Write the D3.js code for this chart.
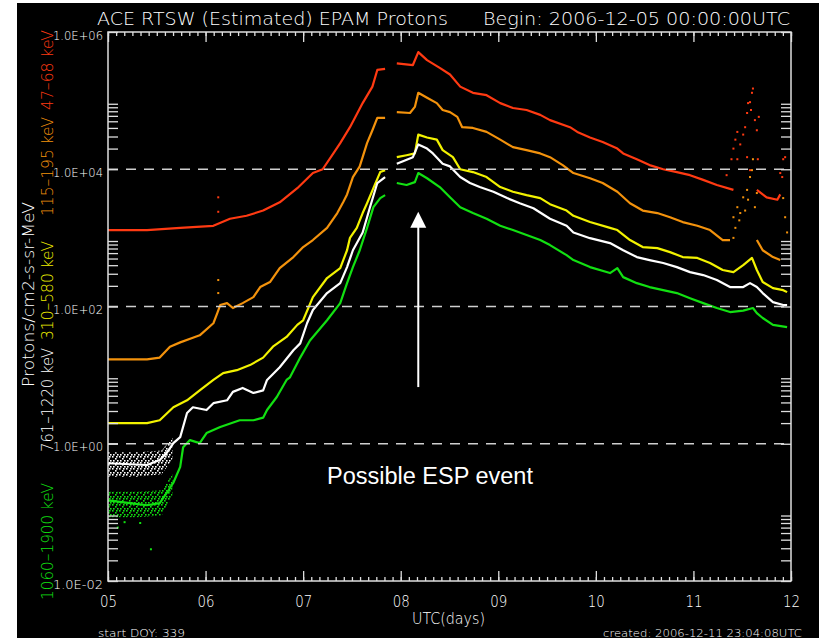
<!DOCTYPE html>
<html>
<head>
<meta charset="utf-8">
<script src="https://cdn.jsdelivr.net/npm/d3@7"></script>
<style>
  html, body { margin: 0; padding: 0; background: #fff; }
  svg { display: block; }
  .idl { font-family: "DejaVu Sans", "Liberation Sans", sans-serif; font-weight: 200; fill: #fff; }
</style>
</head>
<body>
<svg id="chart" width="819" height="641"></svg>
<script>
// ---- EPAM proton fluxes, [day of month (UTC), protons/cm2-s-sr-MeV]; null = data gap
const ch47_68 = [[5.00,1300],[5.40,1300],[5.74,1400],[6.08,1500],[6.25,1900],[6.42,2100],[6.59,2500],[6.76,3300],[6.94,5300],[7.10,8800],[7.20,10000],[7.31,17000],[7.38,24000],[7.48,41000],[7.61,92000],[7.71,160000],[7.76,280000],[7.84,290000],null,[7.96,350000],[8.125,330000],[8.18,510000],[8.27,390000],[8.40,300000],[8.505,240000],[8.61,160000],[8.74,130000],[8.88,120000],[9.02,92000],[9.15,78000],[9.29,73000],[9.43,62000],[9.53,52000],[9.735,41000],[9.81,35000],[9.94,29000],[10.07,25000],[10.22,20000],[10.28,17000],[10.42,14000],[10.55,11500],[10.69,10000],[10.83,9100],[10.965,8200],[11.10,7000],[11.24,5900],[11.41,5000],null,[11.65,5000],[11.75,3900],[11.86,3600],[11.89,4300]];

const ch115_195 = [[5.00,17],[5.40,17],[5.53,18],[5.635,26],[5.74,30],[5.87,35],[5.94,38],[6.08,57],[6.12,80],[6.15,105],[6.22,112],[6.28,95],[6.38,112],[6.49,137],[6.56,192],[6.66,227],[6.76,363],[6.90,525],[7.00,735],[7.10,930],[7.245,1400],[7.35,2300],[7.41,3300],[7.45,4300],[7.51,7700],[7.58,11000],[7.655,24000],[7.71,37000],[7.76,56000],[7.84,56000],null,[7.96,68000],[8.095,66000],[8.145,81000],[8.18,130000],[8.27,110000],[8.37,92000],[8.43,73000],[8.505,68000],[8.58,58000],[8.63,41000],[8.74,40000],[8.88,35000],[9.02,27000],[9.15,21000],[9.29,19000],[9.43,17000],[9.53,15000],[9.66,11500],[9.77,8800],[9.94,7400],[10.07,6300],[10.22,4700],[10.35,3200],[10.48,2500],[10.63,2300],[10.76,2000],[10.89,1700],[11.04,1500],[11.17,1300],[11.30,930],[11.375,930],null,[11.65,930],[11.71,660],[11.815,525],[11.89,475]];

const ch310_580 = [[5.00,2.0],[5.40,2.0],[5.53,2.2],[5.67,3.4],[5.81,4.3],[5.94,6.0],[6.08,8.5],[6.18,10.7],[6.32,11.8],[6.455,14],[6.59,18],[6.69,26],[6.83,36],[6.94,54],[7.00,63],[7.10,137],[7.245,260],[7.38,363],[7.45,660],[7.48,1000],[7.55,1400],[7.61,2300],[7.655,3200],[7.72,5300],[7.79,9100],[7.84,9700],null,[7.96,15000],[8.06,16000],[8.145,17000],[8.18,32000],[8.27,29000],[8.37,27000],[8.43,19000],[8.535,15000],[8.61,10000],[8.74,9100],[8.88,7700],[9.02,5500],[9.15,4700],[9.29,4200],[9.43,3800],[9.53,3100],[9.70,2500],[9.77,2100],[9.94,1700],[10.145,1400],[10.22,1300],[10.35,930],[10.48,735],[10.63,710],[10.76,620],[10.89,525],[11.04,510],[11.17,430],[11.30,340],[11.41,317],[11.51,400],[11.60,510],[11.65,340],[11.71,227],[11.815,185],[11.92,173],[11.96,162]];

const ch761_1220 = [[5.00,0.52],[5.40,0.49],[5.53,0.58],[5.60,0.73],[5.67,1.02],[5.74,1.25],[5.81,2.8],[5.87,3.4],[6.01,3.1],[6.08,3.9],[6.22,4.3],[6.28,5.7],[6.38,6.5],[6.49,5.5],[6.59,6.0],[6.63,8.5],[6.76,13],[6.90,23],[6.97,29],[7.04,57],[7.10,89],[7.245,157],[7.38,219],[7.45,375],[7.51,660],[7.61,1200],[7.685,2800],[7.76,6300],[7.84,7700],null,[7.96,12000],[8.125,15000],[8.18,23000],[8.27,20000],[8.33,17000],[8.43,12000],[8.505,11000],[8.61,7700],[8.71,6300],[8.81,5500],[8.95,4700],[9.09,3800],[9.22,3200],[9.36,2700],[9.53,1900],[9.70,1500],[9.77,1200],[9.94,990],[10.145,840],[10.28,660],[10.42,525],[10.55,475],[10.69,430],[10.83,375],[10.965,317],[11.10,287],[11.24,243],[11.375,192],[11.51,192],[11.58,219],[11.65,192],[11.71,157],[11.815,116],[11.92,105],[11.96,105]];

const ch1060_1900 = [[5.00,0.15],[5.225,0.136],[5.40,0.127],[5.53,0.136],[5.60,0.19],[5.67,0.27],[5.74,0.46],[5.77,0.89],[5.84,1.13],[5.94,1.02],[6.01,1.43],[6.15,1.75],[6.35,2.2],[6.49,2.2],[6.59,2.4],[6.63,3.1],[6.73,4.8],[6.83,8.5],[6.865,9.3],[6.97,18],[7.07,32],[7.245,63],[7.38,112],[7.45,219],[7.51,375],[7.58,660],[7.655,1400],[7.72,2800],[7.79,3800],[7.84,4200],null,[7.96,6300],[8.06,5900],[8.145,6500],[8.18,8800],[8.27,7400],[8.40,5500],[8.505,3900],[8.61,2800],[8.74,2300],[8.88,1900],[9.02,1500],[9.15,1300],[9.29,1100],[9.43,930],[9.53,785],[9.70,560],[9.77,475],[9.94,375],[10.145,307],[10.22,363],[10.28,268],[10.42,219],[10.55,192],[10.69,173],[10.83,157],[10.965,132],[11.10,112],[11.24,95],[11.375,83],[11.51,87],[11.61,95],[11.65,80],[11.71,68],[11.815,54],[11.96,50]];

// noisy quiet-time spread of the two highest channels: [day, low, high]
const spread761_1220 = [[5.00,0.33,0.75],[5.30,0.33,0.75],[5.55,0.36,0.80],[5.66,0.60,1.25]];
const spread1060_1900 = [[5.00,0.085,0.20],[5.30,0.085,0.20],[5.55,0.09,0.21],[5.66,0.17,0.36]];

// isolated samples off the main traces
const dots47_68 = [[6.13,3900],[6.13,2400],[11.34,8200],[11.39,14000],[11.41,20000],[11.43,27000],[11.45,35000],[11.48,23000],[11.51,32000],[11.53,41000],[11.55,66000],[11.56,92000],[11.58,95000],[11.59,73000],[11.60,130000],[11.61,150000],[11.63,52000],[11.65,37000],[11.67,58000],[11.66,14000],[11.45,14000],[11.55,15000],[11.58,9700],[11.89,8800],[11.92,14000],[11.94,15000],[11.91,7700]];
const dots115_195 = [[6.13,243],[6.13,157],[11.41,2000],[11.43,1400],[11.45,2800],[11.48,2300],[11.51,3900],[11.53,2500],[11.55,5000],[11.56,3600],[11.58,7700],[11.60,9700],[11.61,14000],[11.63,2800],[11.65,4500],[11.41,1000],[11.47,1800],[11.92,3800],[11.94,2000],[11.96,1200]];
const dots1060_1900 = [[5.17,0.072],[5.44,0.029],[5.10,0.06],[5.33,0.07]];

// axis ticks
const dayTicks = [5, 6, 7, 8, 9, 10, 11, 12];
const dayLabels = ["05", "06", "07", "08", "09", "10", "11", "12"];
const fluxTicks = [1e-2, 1e0, 1e2, 1e4, 1e6];
const refLines = [1e0, 1e2, 1e4];

// annotation
const espDay = 8.18, espFrom = 6.7, espTo = 2400;

// ---- layout
const svg = d3.select("#chart");
svg.append("rect").attr("x", 17).attr("y", 3).attr("width", 802).attr("height", 635).attr("fill", "#000");

const x = d3.scaleLinear().domain([5, 12]).range([108, 791]);
const y = d3.scaleLog().domain([1e-2, 1e6]).range([581, 32]);

const series = [
  { id: "c1", data: ch47_68, dots: dots47_68, color: "#ff3a12" },
  { id: "c2", data: ch115_195, dots: dots115_195, color: "#f3920c" },
  { id: "c3", data: ch310_580, dots: [], color: "#f2f200" },
  { id: "c4", data: ch761_1220, dots: [], spread: spread761_1220, color: "#ffffff" },
  { id: "c5", data: ch1060_1900, dots: dots1060_1900, spread: spread1060_1900, color: "#12e012" }
];

// speckle fill for the noisy quiet-time samples
const defs = svg.append("defs");
series.filter(s => s.spread).forEach(s => {
  const p = defs.append("pattern").attr("id", "speckle-" + s.id)
    .attr("patternUnits", "userSpaceOnUse").attr("width", 7).attr("height", 6);
  [[0, 0], [3, 2], [5, 4], [1, 4], [4, 0]].forEach(([px, py]) =>
    p.append("rect").attr("x", px).attr("y", py).attr("width", 1.6).attr("height", 1.6).attr("fill", s.color));
});

const line = d3.line().defined(d => d).x(d => x(d[0])).y(d => y(d[1]));
const band = d3.area().x(d => x(d[0])).y0(d => y(d[1])).y1(d => y(d[2]));

const plot = svg.append("g");
series.forEach(s => {
  if (s.spread) {
    plot.append("path").attr("d", band(s.spread)).attr("fill", `url(#speckle-${s.id})`);
  }
  plot.append("path").attr("d", line(s.data)).attr("fill", "none")
    .attr("stroke", s.color).attr("stroke-width", 2.2).attr("stroke-linejoin", "round");
  plot.selectAll(null).data(s.dots).enter().append("rect")
    .attr("x", d => x(d[0]) - 1).attr("y", d => y(d[1]) - 1)
    .attr("width", 2).attr("height", 2).attr("fill", s.color);
});

// dashed reference levels
svg.selectAll(".ref").data(refLines).enter().append("line")
  .attr("x1", x(5)).attr("x2", x(12)).attr("y1", d => y(d)).attr("y2", d => y(d))
  .attr("stroke", "#cfcfcf").attr("stroke-width", 1.5).attr("stroke-dasharray", "10,8");

// ---- axes
const axisColor = "#dedede";
function styleAxis(g) {
  g.select(".domain").remove();
  g.selectAll("line").attr("stroke", axisColor).attr("stroke-width", 1.3);
}
const minorHours = d3.range(0, 7 * 12 + 1).map(i => 5 + i / 12);
const minorFlux = [];
[-2, 0, 2, 4].forEach(e => { for (let m = 2; m <= 9; m++) minorFlux.push(m * Math.pow(10, e)); });

// bottom
svg.append("g").attr("transform", `translate(0,${y(1e-2)})`)
  .call(d3.axisBottom(x).tickValues(minorHours).tickSize(-4).tickFormat(""))
  .call(styleAxis);
const xb = svg.append("g").attr("transform", `translate(0,${y(1e-2)})`)
  .call(d3.axisBottom(x).tickValues(dayTicks).tickSize(-10).tickFormat((d, i) => dayLabels[i]))
  .call(styleAxis);
xb.selectAll("text").attr("class", "idl").attr("y", 26).attr("dy", 0)
  .attr("font-size", 16).attr("textLength", 17).attr("lengthAdjust", "spacingAndGlyphs");
// top
svg.append("g").attr("transform", `translate(0,${y(1e6)})`)
  .call(d3.axisTop(x).tickValues(minorHours).tickSize(-4).tickFormat(""))
  .call(styleAxis);
svg.append("g").attr("transform", `translate(0,${y(1e6)})`)
  .call(d3.axisTop(x).tickValues(dayTicks).tickSize(-10).tickFormat(""))
  .call(styleAxis);

// left
const fmtE = d => {
  const e = Math.round(Math.log10(d));
  return "1.0E" + (e < 0 ? "-" : "+") + String(Math.abs(e)).padStart(2, "0");
};
svg.append("g").attr("transform", `translate(${x(5)},0)`)
  .call(d3.axisLeft(y).tickValues(minorFlux).tickSize(-10).tickFormat(""))
  .call(styleAxis);
const yl = svg.append("g").attr("transform", `translate(${x(5)},0)`)
  .call(d3.axisLeft(y).tickValues(fluxTicks).tickSize(-10).tickFormat(fmtE))
  .call(styleAxis);
yl.selectAll("text").attr("class", "idl").attr("x", -5).attr("dy", 7)
  .attr("font-size", 12).attr("textLength", 50).attr("lengthAdjust", "spacingAndGlyphs");
// right
svg.append("g").attr("transform", `translate(${x(12)},0)`)
  .call(d3.axisRight(y).tickValues(minorFlux.concat(fluxTicks)).tickSize(-10).tickFormat(""))
  .call(styleAxis);

// frame
svg.append("rect").attr("x", x(5)).attr("y", y(1e6))
  .attr("width", x(12) - x(5)).attr("height", y(1e-2) - y(1e6))
  .attr("fill", "none").attr("stroke", axisColor).attr("stroke-width", 1.5);

// ---- texts
function idlText(t, px, py, size, len, anchor) {
  return svg.append("text").attr("class", "idl").attr("x", px).attr("y", py)
    .attr("font-size", size).attr("text-anchor", anchor || "start")
    .attr("textLength", len).attr("lengthAdjust", "spacingAndGlyphs").text(t);
}
idlText("ACE RTSW (Estimated) EPAM Protons", 97, 25, 18, 351);
idlText("Begin: 2006-12-05 00:00:00UTC", 483, 25, 18, 307);
idlText("UTC(days)", 412, 624, 15, 73);
idlText("start DOY:  339", 98, 637, 11, 87);
idlText("created: 2006-12-11 23:04:08UTC", 603, 637, 11, 199);

// rotated channel legend and unit
const legend = [
  { t: "47\u201368 keV", y0: 110, y1: 30, color: "#ff3a12" },
  { t: "115\u2013195 keV", y0: 216, y1: 117, color: "#f3920c" },
  { t: "310\u2013580 keV", y0: 340, y1: 241, color: "#f2f200" },
  { t: "761\u20131220 keV", y0: 452, y1: 348, color: "#ffffff" },
  { t: "1060\u20131900 keV", y0: 600, y1: 483, color: "#12e012" }
];
legend.forEach(l => {
  svg.append("text").attr("class", "idl")
    .attr("transform", `translate(53,${l.y0}) rotate(-90)`)
    .attr("font-size", 15.5).attr("textLength", l.y0 - l.y1).attr("lengthAdjust", "spacingAndGlyphs")
    .style("fill", l.color).text(l.t);
});
svg.append("text").attr("class", "idl")
  .attr("transform", "translate(34,387) rotate(-90)")
  .attr("font-size", 15.5).attr("textLength", 185).attr("lengthAdjust", "spacingAndGlyphs")
  .text("Protons/cm2-s-sr-MeV");

// ESP annotation
const ax = x(espDay), ayTip = y(espTo), ayEnd = y(espFrom);
svg.append("line").attr("x1", ax).attr("x2", ax).attr("y1", ayTip + 14).attr("y2", ayEnd)
  .attr("stroke", "#fff").attr("stroke-width", 2);
svg.append("path").attr("d", `M${ax},${ayTip} L${ax - 8},${ayTip + 16} L${ax + 8},${ayTip + 16} Z`).attr("fill", "#fff");
svg.append("text").attr("x", x(8.30)).attr("y", 484).attr("text-anchor", "middle")
  .attr("font-family", "Liberation Sans, Arial, sans-serif").attr("font-size", 23.5)
  .attr("fill", "#fff").text("Possible ESP event");
</script>
</body>
</html>
